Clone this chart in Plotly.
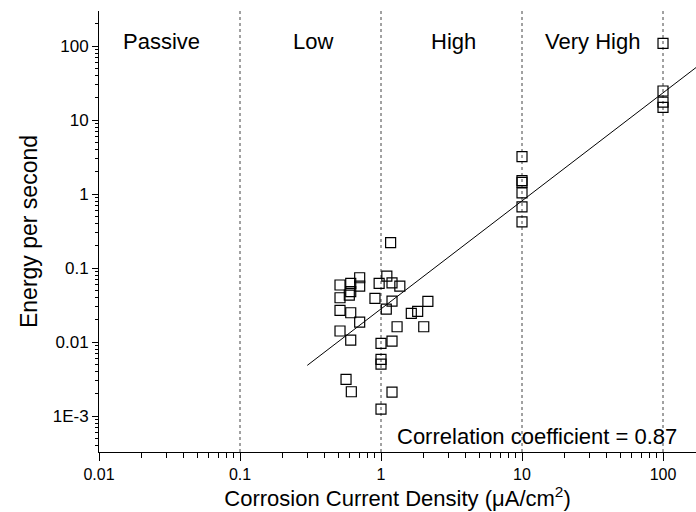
import numpy as np
import plotly.graph_objects as go

# Corrosion current density (uA/cm^2) and energy per second
current_density = [
    1.17, 0.706, 0.512, 0.61, 0.706, 0.61, 0.596, 0.512, 0.97, 1.10,
    1.197, 1.36, 0.906, 1.197, 1.09, 0.512, 0.61, 0.706, 1.64, 1.82,
    2.15, 1.30, 2.01, 0.512, 0.61, 1.0, 1.197, 1.0, 1.0, 0.565,
    0.616, 1.197, 1.0,
    10, 10, 10, 10, 10, 10,
    100, 100, 100, 100,
]
energy = [
    0.22, 0.074, 0.059, 0.062, 0.057, 0.048, 0.043, 0.0397, 0.062, 0.078,
    0.063, 0.057, 0.039, 0.0358, 0.0279, 0.0268, 0.0249, 0.0186, 0.0244, 0.026,
    0.0355, 0.0161, 0.0161, 0.0141, 0.0106, 0.0096, 0.0103, 0.00583, 0.00504, 0.00313,
    0.00213, 0.00211, 0.00124,
    3.2, 1.52, 1.44, 1.04, 0.67, 0.42,
    109, 24.7, 17.5, 14.8,
]

# Fitted power law: log10(E) = fit_intercept + fit_slope*log10(i)
fit_slope = 1.46
fit_intercept = -1.552
fit_x = [0.3, 200]

region_bounds = [0.1, 1, 10, 100]
region_names = ["Passive", "Low", "High", "Very High"]
region_label_x = [0.0278, 0.33, 3.25, 31.6]

x_ticks = [0.01, 0.1, 1, 10, 100]
x_tick_labels = ["0.01", "0.1", "1", "10", "100"]
y_ticks = [0.001, 0.01, 0.1, 1, 10, 100]
y_tick_labels = ["1E-3", "0.01", "0.1", "1", "10", "100"]

FONT = "Liberation Sans, Arial, sans-serif"

fig = go.Figure()

fx = np.array(fit_x)
fy = 10 ** (fit_intercept + fit_slope * np.log10(fx))
fig.add_trace(go.Scatter(x=fx, y=fy, mode="lines",
                         line=dict(color="black", width=1), showlegend=False))

fig.add_trace(go.Scatter(
    x=current_density, y=energy, mode="markers",
    marker=dict(symbol="square-open", size=10, color="black", line=dict(width=1.2)),
    showlegend=False,
))

shapes = []
for b in region_bounds:
    shapes.append(dict(type="line", xref="x", yref="paper", x0=b, x1=b, y0=0, y1=1,
                       line=dict(color="#444444", width=1, dash="dot"), layer="below"))

annotations = []
for name, lx in zip(region_names, region_label_x):
    annotations.append(dict(x=np.log10(lx), y=0.93, xref="x", yref="paper", text=name,
                            showarrow=False, font=dict(family=FONT, size=22, color="black"),
                            xanchor="center", yanchor="middle"))
annotations.append(dict(x=0.972, y=0.036, xref="paper", yref="paper",
                        text="Correlation coefficient = 0.87", showarrow=False,
                        font=dict(family=FONT, size=22, color="black"),
                        xanchor="right", yanchor="middle"))

fig.update_layout(
    width=696, height=512,
    margin=dict(l=99, r=0, t=11, b=60),
    paper_bgcolor="white", plot_bgcolor="white",
    shapes=shapes, annotations=annotations,
    font=dict(family=FONT, color="black"),
    xaxis=dict(
        type="log", range=[-2, 2.234],
        tickvals=x_ticks, ticktext=x_tick_labels,
        ticks="outside", ticklen=8, tickwidth=1, tickcolor="black",
        minor=dict(ticks="outside", ticklen=5, tickcolor="black", dtick="D1", showgrid=False),
        showline=True, linecolor="black", linewidth=1, showgrid=False, zeroline=False,
        tickfont=dict(family=FONT, size=16),
        title=dict(text="Corrosion Current Density (\u03bcA/cm<sup>2</sup>)",
                   font=dict(family=FONT, size=22), standoff=3),
    ),
    yaxis=dict(
        type="log", range=[-3.486, 2.474],
        tickvals=y_ticks, ticktext=y_tick_labels,
        ticks="outside", ticklen=6, tickwidth=1, tickcolor="black",
        minor=dict(ticks="outside", ticklen=3.5, tickcolor="black", dtick="D1", showgrid=False),
        showline=True, linecolor="black", linewidth=1, showgrid=False, zeroline=False,
        tickfont=dict(family=FONT, size=17),
        title=dict(text="Energy per second", font=dict(family=FONT, size=23), standoff=8),
    ),
)

fig.write_html("out.html")
